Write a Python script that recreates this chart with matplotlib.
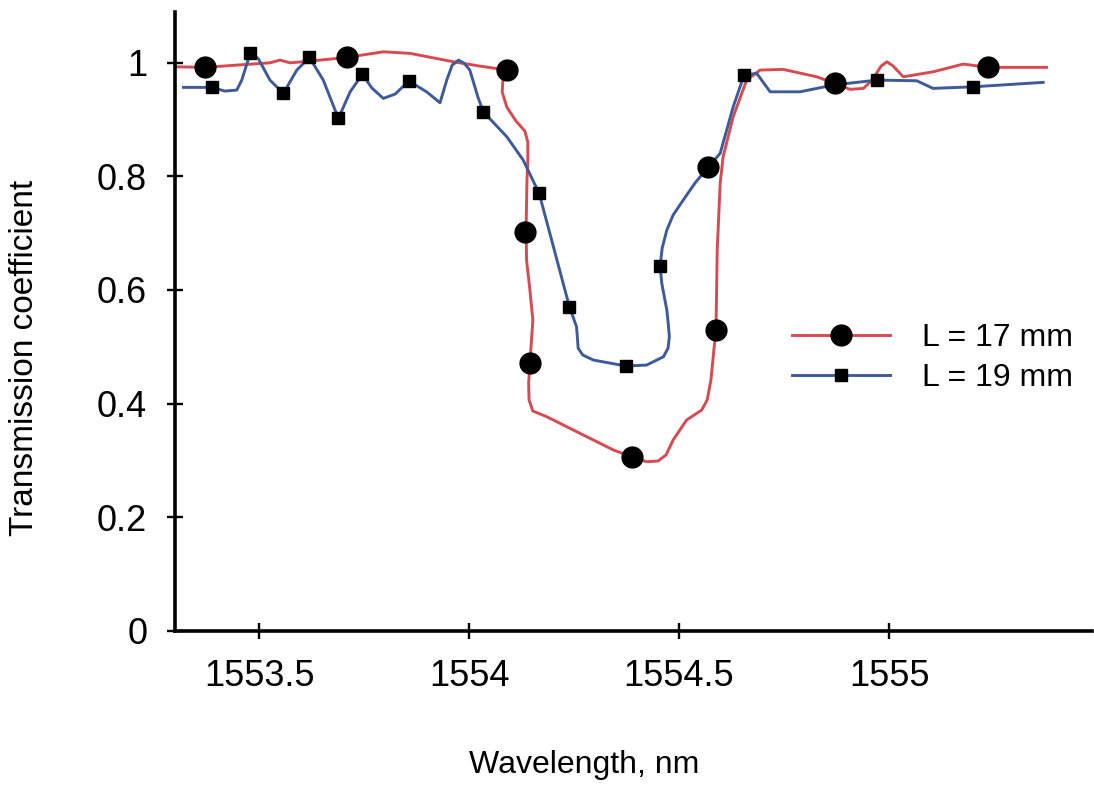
import matplotlib.pyplot as plt
from matplotlib.lines import Line2D

plt.rcParams['font.family'] = ['Liberation Sans', 'DejaVu Sans']

# L = 17 mm: the curve and its markers
red_x = [1553.300, 1553.371, 1553.471, 1553.526, 1553.550, 1553.574, 1553.621,
         1553.709, 1553.796, 1553.860, 1553.963, 1554.026, 1554.074, 1554.081,
         1554.079, 1554.090, 1554.112, 1554.133, 1554.140, 1554.140, 1554.138,
         1554.136, 1554.137, 1554.145, 1554.152, 1554.148, 1554.145, 1554.142,
         1554.143, 1554.152, 1554.185, 1554.264, 1554.344, 1554.387, 1554.423,
         1554.450, 1554.469, 1554.486, 1554.518, 1554.554, 1554.567, 1554.576,
         1554.583, 1554.588, 1554.591, 1554.598, 1554.605, 1554.629, 1554.661,
         1554.693, 1554.748, 1554.828, 1554.871, 1554.907, 1554.939, 1554.960,
         1554.981, 1554.995, 1555.010, 1555.034, 1555.105, 1555.177, 1555.236,
         1555.264, 1555.375]
red_y = [0.9926, 0.9916, 0.9968, 0.9996, 1.0044, 0.9996, 1.0026,
         1.0091, 1.0190, 1.0162, 1.0014, 0.9938, 0.9886, 0.9727,
         0.9481, 0.9217, 0.8971, 0.8795, 0.8602, 0.8285, 0.7933,
         0.7106, 0.6526, 0.5998, 0.5471, 0.5031, 0.4709, 0.4362,
         0.4063, 0.3870, 0.3770, 0.3478, 0.3184, 0.3066, 0.2978,
         0.2990, 0.3096, 0.3360, 0.3712, 0.3887, 0.4063, 0.4415,
         0.4943, 0.5295, 0.6702, 0.7875, 0.8343, 0.9047, 0.9692,
         0.9868, 0.9880, 0.9750, 0.9634, 0.9529, 0.9546, 0.9692,
         0.9938, 1.0014, 0.9938, 0.9750, 0.9838, 0.9974, 0.9916,
         0.9916, 0.9916]
red_mx = [1553.371, 1553.709, 1554.090, 1554.133, 1554.145, 1554.387,
          1554.570, 1554.588, 1554.871, 1555.236]
red_my = [0.9916, 1.0091, 0.9868, 0.7024, 0.4709, 0.3066,
          0.8167, 0.5295, 0.9634, 0.9916]

# L = 19 mm
blue_x = [1553.320, 1553.387, 1553.419, 1553.447, 1553.459, 1553.479, 1553.498,
          1553.526, 1553.558, 1553.590, 1553.620, 1553.653, 1553.689, 1553.717,
          1553.746, 1553.769, 1553.796, 1553.824, 1553.857, 1553.899, 1553.931,
          1553.947, 1553.960, 1553.975, 1553.988, 1554.002, 1554.021, 1554.034,
          1554.090, 1554.129, 1554.167, 1554.201, 1554.239, 1554.256, 1554.260,
          1554.271, 1554.296, 1554.374, 1554.423, 1554.463, 1554.474, 1554.477,
          1554.474, 1554.471, 1554.459, 1554.455, 1554.460, 1554.471, 1554.486,
          1554.510, 1554.538, 1554.570, 1554.598, 1554.629, 1554.655, 1554.685,
          1554.717, 1554.788, 1554.867, 1554.971, 1555.066, 1555.105, 1555.201,
          1555.367]
blue_y = [0.9564, 0.9564, 0.9499, 0.9516, 0.9692, 1.0162, 1.0074,
          0.9692, 0.9458, 0.9868, 1.0091, 0.9692, 0.9018, 0.9486,
          0.9792, 0.9551, 0.9370, 0.9446, 0.9675, 0.9486, 0.9293,
          0.9692, 0.9956, 1.0044, 0.9991, 0.9868, 0.9398, 0.9135,
          0.8695, 0.8285, 0.7699, 0.6760, 0.5705, 0.5353, 0.4973,
          0.4855, 0.4767, 0.4661, 0.4679, 0.4825, 0.4978, 0.5177,
          0.5435, 0.5646, 0.6116, 0.6420, 0.6737, 0.7054, 0.7318,
          0.7581, 0.7880, 0.8167, 0.8403, 0.9222, 0.9780, 0.9810,
          0.9486, 0.9486, 0.9604, 0.9692, 0.9680, 0.9546, 0.9574,
          0.9652]
blue_mx = [1553.387, 1553.479, 1553.558, 1553.620, 1553.689, 1553.746,
           1553.857, 1554.034, 1554.167, 1554.239, 1554.374, 1554.455,
           1554.655, 1554.971, 1555.201]
blue_my = [0.9564, 1.0162, 0.9458, 1.0091, 0.9018, 0.9792,
           0.9675, 0.9135, 0.7699, 0.5705, 0.4661, 0.6420,
           0.9780, 0.9692, 0.9574]

x_ticks = [1553.5, 1554, 1554.5, 1555]
x_tick_labels = ['1553.5', '1554', '1554.5', '1555']
y_ticks = [0, 0.2, 0.4, 0.6, 0.8, 1]
y_tick_labels = ['0', '0.2', '0.4', '0.6', '0.8', '1']

red = '#d84a52'
blue = '#3d5a9a'

fig = plt.figure(figsize=(10.94, 7.87), dpi=100)
ax = fig.add_axes([175 / 1094, 1 - 631 / 787, 917 / 1094, 619 / 787])

ax.plot(red_x, red_y, color=red, lw=2.1, solid_joinstyle='round', zorder=2)
ax.plot(blue_x, blue_y, color=blue, lw=2.1, solid_joinstyle='round', zorder=2)
ax.plot(red_mx, red_my, 'o', color='black', ms=15, zorder=3)
ax.plot(blue_mx, blue_my, 's', color='black', ms=9, zorder=3)

ax.set_xlim(1553.3, 1555.4833)
ax.set_ylim(0, 1.089)
ax.set_xticks(x_ticks, x_tick_labels)
ax.set_yticks(y_ticks, y_tick_labels)

for s in ['top', 'right']:
    ax.spines[s].set_visible(False)
for s in ['left', 'bottom']:
    ax.spines[s].set_linewidth(2.6)
ax.tick_params(direction='inout', length=12, width=1.7, labelsize=26, pad=14)

handles = [
    Line2D([], [], color=red, lw=2.1, marker='o', mfc='black', mec='black', ms=15),
    Line2D([], [], color=blue, lw=2.1, marker='s', mfc='black', mec='black', ms=9),
]
ax.legend(handles, ['L = 17 mm', 'L = 19 mm'], loc='center left',
          bbox_to_anchor=(792 / 1094, 1 - 358 / 787), bbox_transform=fig.transFigure,
          frameon=False, fontsize=23, handlelength=3.07, handletextpad=1.0,
          labelspacing=0.32, borderpad=0, borderaxespad=0)

fig.text(25 / 1094, 1 - 358 / 787, 'Transmission coefficient', rotation=90,
         ha='center', va='center', fontsize=24)
fig.text(584 / 1094, 1 - 765 / 787, 'Wavelength, nm', ha='center', va='center',
         fontsize=23)

fig.savefig('out.png', dpi=100)
